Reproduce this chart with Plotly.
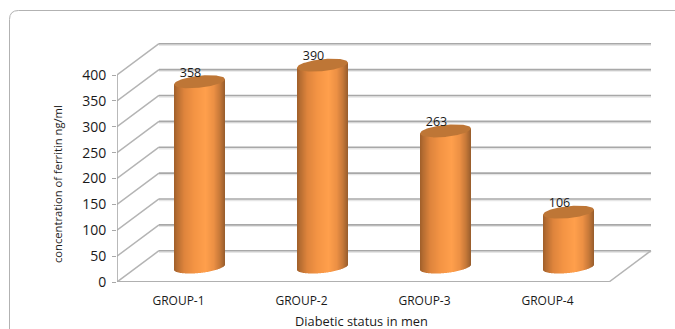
import plotly.graph_objects as go

# Mean serum ferritin by diabetic group
groups = ["GROUP-1", "GROUP-2", "GROUP-3", "GROUP-4"]
ferritin = [358, 390, 263, 106]
y_ticks = [0, 50, 100, 150, 200, 250, 300, 350, 400]

FONT = "Open Sans"
W, H = 675, 329

# Plot frame in pixels; the axes are pinned to it so depth can be given in pixels
LEFT, RIGHT, TOP, BOTTOM = 117, 655, 38, 282
PX_PER_CAT = 123.0
PX_PER_UNIT = 0.5175


def dx(px):
    return px / PX_PER_CAT


def dy(px):
    return px / PX_PER_UNIT


DEPTH_X, DEPTH_Y = dx(42), dy(31.3)
CENTER_X, CENTER_Y = dx(21), dy(15)    # cylinders stand mid-way along the floor depth
HALF_W, CAP_B, CAP_TILT = 25.5, 6.0, 0.1

# Horizontal shading of a cylinder, left edge to right edge
shade_stops = [
    (0.00, (160, 95, 42)), (0.07, (184, 110, 50)), (0.20, (222, 132, 60)),
    (0.40, (244, 148, 68)), (0.62, (255, 159, 76)), (0.78, (236, 144, 68)),
    (0.90, (198, 120, 56)), (1.00, (150, 92, 44)),
]


def shade(t):
    for (t0, c0), (t1, c1) in zip(shade_stops, shade_stops[1:]):
        if t <= t1:
            k = (t - t0) / (t1 - t0)
            return "rgb(%d,%d,%d)" % tuple(round(a + (b - a) * k) for a, b in zip(c0, c1))
    return "rgb(%d,%d,%d)" % shade_stops[-1][1]


fig = go.Figure()

# Wall and floor grid, one bent line per tick value
GRID = "#a8a8a8"
SHADOW = "#e6e6e6"
x_end = len(groups)
shapes = []


def seg(x0, y0, x1, y1, color, width):
    shapes.append(dict(type="line", xref="x", yref="y", layer="below",
                       x0=x0, y0=y0, x1=x1, y1=y1,
                       line=dict(color=color, width=width)))


shade_off = dy(1.5)
for v in y_ticks:
    seg(DEPTH_X, v + DEPTH_Y - shade_off, x_end + DEPTH_X, v + DEPTH_Y - shade_off, SHADOW, 1.5)
    seg(0, v, DEPTH_X, v + DEPTH_Y, "#b4b4b4", 1.5)
    seg(DEPTH_X, v + DEPTH_Y, x_end + DEPTH_X, v + DEPTH_Y, GRID, 1.6)
seg(0, -shade_off, x_end, -shade_off, SHADOW, 1.5)
seg(0, 0, x_end, 0, "#b0b0b0", 1.8)
seg(x_end, 0, x_end + DEPTH_X, DEPTH_Y, "#b4b4b4", 1.5)
seg(0, 0, 0, max(y_ticks), "#a8a8a8", 1.6)

# Each cylinder body is a run of one-pixel bars between its two rim curves
STRIPS = int(2 * HALF_W)
for i, (name, value) in enumerate(zip(groups, ferritin)):
    cx = i + 0.5 + CENTER_X
    xs, bases, heights, colors = [], [], [], []
    for s in range(STRIPS):
        t = (s + 0.5) / STRIPS
        u = 2 * t - 1
        rim = CAP_B * (1 - u * u) ** 0.5
        tilt = CAP_TILT * HALF_W * u
        xs.append(cx + dx(HALF_W * u))
        bases.append(CENTER_Y + dy(tilt - rim))
        heights.append(value + dy(rim))
        colors.append(shade(t))
    fig.add_trace(go.Bar(x=xs, y=heights, base=bases, width=dx(1), name=name,
                         marker=dict(color=colors, line=dict(width=0)),
                         hoverinfo="skip", showlegend=False))

# Top caps of the cylinders
for i, value in enumerate(ferritin):
    cx = i + 0.5 + CENTER_X
    cy = CENTER_Y + value
    ring_x, ring_y = [], []
    n = 72
    for k in range(n + 1):
        u = -1 + 2 * k / n
        ring_x.append(cx + dx(HALF_W * u))
        ring_y.append(cy + dy(CAP_TILT * HALF_W * u + CAP_B * (1 - u * u) ** 0.5))
    for k in range(n + 1):
        u = 1 - 2 * k / n
        ring_x.append(cx + dx(HALF_W * u))
        ring_y.append(cy + dy(CAP_TILT * HALF_W * u - CAP_B * (1 - u * u) ** 0.5))
    fig.add_trace(go.Scatter(x=ring_x, y=ring_y, mode="lines", fill="toself",
                             fillcolor="#be7636", line=dict(width=0),
                             hoverinfo="skip", showlegend=False))

# Value labels, set just off the top cap
fig.add_trace(go.Scatter(
    x=[i + 0.5 + CENTER_X - dx(9) for i in range(len(groups))],
    y=[CENTER_Y + v + dy(8) for v in ferritin],
    mode="text", text=[str(v) for v in ferritin], textposition="middle center",
    textfont=dict(family=FONT, size=12.5, color="#1a1a1a"),
    hoverinfo="skip", showlegend=False))

# Rounded chart frame running off the right and lower edges
fl, ft, fr = 9.5 / W, 1 - 10.5 / H, 1.0
rx, ry = 9 / W, 9 / H
shapes.append(dict(type="path", xref="paper", yref="paper", layer="below",
                   path=f"M {fl} 0 L {fl} {ft - ry} Q {fl} {ft} {fl + rx} {ft} L {fr} {ft}",
                   line=dict(color="#b2b2b2", width=1)))

annotations = [
    dict(xref="paper", yref="paper", x=361 / W, y=1 - 321 / H, text="Diabetic status in men",
         xanchor="center", yanchor="middle", showarrow=False,
         font=dict(family=FONT, size=12.8, color="#1a1a1a")),
    dict(xref="paper", yref="paper", x=57 / W, y=1 - 184 / H, text="concentration of ferritin ng/ml",
         xanchor="center", yanchor="middle", textangle=-90, showarrow=False,
         font=dict(family=FONT, size=11.2, color="#1a1a1a")),
]

fig.update_layout(
    width=W, height=H, margin=dict(l=0, r=0, t=0, b=0, autoexpand=False),
    paper_bgcolor="white", plot_bgcolor="white",
    barmode="overlay", showlegend=False, shapes=shapes, annotations=annotations,
    xaxis=dict(domain=[LEFT / W, RIGHT / W], range=[0, (RIGHT - LEFT) / PX_PER_CAT],
               automargin=False,
               tickmode="array", tickvals=[i + 0.5 for i in range(len(groups))], ticktext=groups,
               showgrid=False, zeroline=False, showline=False,
               ticks="outside", ticklen=8, tickcolor="rgba(0,0,0,0)",
               tickfont=dict(family=FONT, size=12, color="#1a1a1a")),
    yaxis=dict(domain=[1 - BOTTOM / H, 1 - TOP / H], range=[0, (BOTTOM - TOP) / PX_PER_UNIT],
               automargin=False,
               tickmode="array", tickvals=y_ticks, showgrid=False, zeroline=False, showline=False,
               ticks="outside", ticklen=4, tickcolor="#a8a8a8", tickwidth=1, ticklabelstandoff=3,
               tickfont=dict(family=FONT, size=14, color="#1a1a1a")),
)

fig.write_html("out.html")
